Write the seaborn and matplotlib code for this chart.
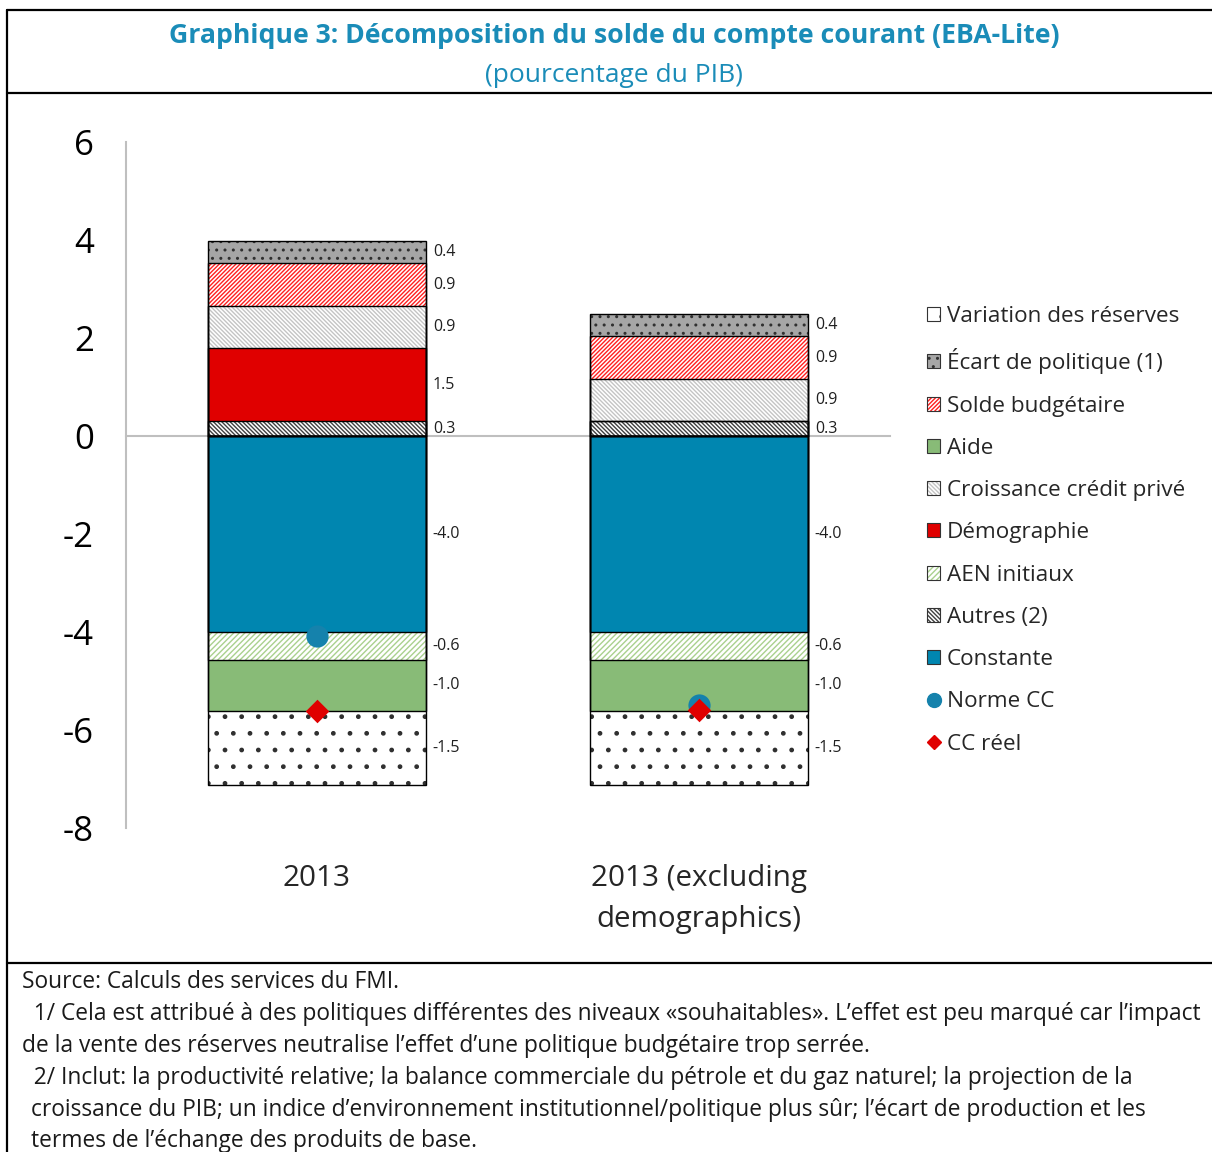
import numpy as np
import pandas as pd
import seaborn as sns
import matplotlib.pyplot as plt
from matplotlib.patches import Patch
from matplotlib.lines import Line2D
from matplotlib.legend_handler import HandlerTuple

# Données (pourcentage du PIB)
categories = ["2013", "2013 (excluding\ndemographics)"]
autres = [0.30, 0.30]
demographie = [1.49, 0.0]
credit_prive = [0.86, 0.86]
solde_budgetaire = [0.88, 0.88]
ecart_politique = [0.44, 0.44]
constante = [-4.00, -4.00]
aen_initiaux = [-0.57, -0.57]
aide = [-1.04, -1.04]
variation_reserves = [-1.51, -1.51]
norme_cc = [-4.08, -5.49]
cc_reel = [-5.61, -5.59]
y_ticks = [-8, -6, -4, -2, 0, 2, 4, 6]

# style: (nom légende, valeurs, couleur fond, hachure, couleur hachure)
positifs = [
    ("Autres (2)", autres, "white", "\\" * 8, "#404040"),
    ("Démographie", demographie, "#e00000", None, "#e00000"),
    ("Croissance crédit privé", credit_prive, "white", "\\" * 8, "#c4c4c4"),
    ("Solde budgétaire", solde_budgetaire, "white", "/" * 8, "#ff2020"),
    ("Écart de politique (1)", ecart_politique, "#a6a6a6", "..", "#303030"),
]
negatifs = [
    ("Constante", constante, "#0086b0", None, "#0086b0"),
    ("AEN initiaux", aen_initiaux, "white", "/" * 6, "#a9d18e"),
    ("Aide", aide, "#88bb77", None, "#88bb77"),
    ("Variation des réserves", variation_reserves, "white", ".", "#303030"),
]
ordre_legende = ["Variation des réserves", "Écart de politique (1)", "Solde budgétaire",
                 "Aide", "Croissance crédit privé", "Démographie", "AEN initiaux",
                 "Autres (2)", "Constante"]

sns.set_style("white")
plt.rcParams['font.family'] = ['Open Sans', 'DejaVu Sans']
plt.rcParams['axes.unicode_minus'] = False
plt.rcParams['hatch.linewidth'] = 1.0

W, H = 1212, 1152
fig = plt.figure(figsize=(W / 100, H / 100), dpi=100)
ax = fig.add_axes([126 / W, 1 - 828 / H, (890 - 126) / W, (828 - 142) / H])

largeur = 0.57
gris_axe = "#bfbfbf"


def empiler(series, ax):
    """Dessine une pile par barres cumulées, de la plus longue à la plus courte."""
    cumuls = np.cumsum([np.array(s[1]) for s in series], axis=0)
    for (nom, vals, fc, hatch, hc), cum in reversed(list(zip(series, cumuls))):
        df = pd.DataFrame({"cat": categories, "val": cum})
        sns.barplot(data=df, x="cat", y="val", order=categories, width=largeur,
                    saturation=1, errorbar=None, color=fc, facecolor=fc,
                    edgecolor=hc, linewidth=0, hatch=hatch, ax=ax)
    for cum in cumuls:
        df = pd.DataFrame({"cat": categories, "val": cum})
        sns.barplot(data=df, x="cat", y="val", order=categories, width=largeur,
                    saturation=1, errorbar=None, color="black", facecolor="none",
                    edgecolor="black", linewidth=1.0, ax=ax)
    # étiquettes de valeurs à droite des barres
    bas = np.zeros(len(categories))
    for (nom, vals, fc, hatch, hc), cum in zip(series, cumuls):
        for i, v in enumerate(vals):
            if v != 0:
                ax.annotate(f"{v:.1f}", xy=(i + largeur / 2, (bas[i] + cum[i]) / 2),
                            xytext=(5, 0), textcoords="offset points",
                            ha="left", va="center", fontsize=11.5, color="#202020")
        bas = cum


empiler(positifs, ax)
empiler(negatifs, ax)

# points Norme CC et CC réel
sns.stripplot(x=categories, y=norme_cc, order=categories, jitter=False, marker="o",
              size=16, color="#1582ac", linewidth=0, zorder=5, ax=ax)
sns.stripplot(x=categories, y=cc_reel, order=categories, jitter=False, marker="D",
              size=12, color="#e00000", linewidth=0, zorder=6, ax=ax)

# axes
ax.set_xlim(-0.5, 1.5)
ax.set_ylim(-8, 6)
ax.set_yticks(y_ticks)
ax.set_yticklabels([str(t) for t in y_ticks])
ax.set_xticks([0.5, 1.5])
ax.set_xticklabels([])
ax.set_xlabel("")
ax.set_ylabel("")
for s in ["top", "right"]:
    ax.spines[s].set_visible(False)
ax.spines["left"].set_color(gris_axe)
ax.spines["left"].set_linewidth(1.5)
ax.spines["bottom"].set_position(("data", 0))
ax.spines["bottom"].set_color(gris_axe)
ax.spines["bottom"].set_linewidth(1.5)
ax.spines["bottom"].set_zorder(0.5)
ax.tick_params(axis="y", direction="in", length=7, width=1.2, color=gris_axe,
               labelsize=25, pad=23, labelcolor="black")
ax.tick_params(axis="x", direction="in", length=7, width=1.2, color=gris_axe)
for i, c in enumerate(categories):
    ax.text(i, -0.052, c, transform=ax.get_xaxis_transform(), ha="center", va="top",
            fontsize=21.3, linespacing=1.55)

# légende
handles, labels = [], []
styles = {s[0]: s for s in positifs + negatifs}
for nom in ordre_legende:
    _, _, fc, hatch, hc = styles[nom]
    handles.append((Patch(facecolor=fc, hatch=hatch, edgecolor=hc, linewidth=0),
                    Patch(facecolor="none", edgecolor="#333333", linewidth=0.8)))
    labels.append(nom)
handles.append(Line2D([], [], marker="o", linestyle="none", color="#1582ac", markersize=10))
labels.append("Norme CC")
handles.append(Line2D([], [], marker="D", linestyle="none", color="#e00000", markersize=7))
labels.append("CC réel")
fig.legend(handles, labels, loc="upper left", bbox_to_anchor=(927 / W, 1 - 306 / H),
           bbox_transform=fig.transFigure, frameon=False, fontsize=16.2,
           handlelength=0.58, handleheight=0.58, handletextpad=0.3,
           labelspacing=0.945, borderpad=0, borderaxespad=0,
           handler_map={tuple: HandlerTuple(ndivide=1)})

# titre
bleu = "#1a8cb8"
fig.text(614 / W, 1 - 36 / H, "Graphique 3: Décomposition du solde du compte courant (EBA-Lite)",
         ha="center", va="center", fontsize=19.2, fontweight="bold", color=bleu)
fig.text(614 / W, 1 - 76 / H, "(pourcentage du PIB)", ha="center", va="center",
         fontsize=19, color=bleu)

# cadre
for (x0, y0, x1, y1) in [(7, 10, W, 10), (7, 93, W, 93), (7, 963, W, 963), (7, 10, 7, H)]:
    fig.add_artist(Line2D([x0 / W, x1 / W], [1 - y0 / H, 1 - y1 / H], color="black",
                          linewidth=1.6, transform=fig.transFigure))

# notes
notes = [
    (22, 982, "Source: Calculs des services du FMI."),
    (22, 1014, "  1/ Cela est attribué à des politiques différentes des niveaux «souhaitables». L’effet est peu marqué car l’impact"),
    (22, 1046, "de la vente des réserves neutralise l’effet d’une politique budgétaire trop serrée."),
    (22, 1078, "  2/ Inclut: la productivité relative; la balance commerciale du pétrole et du gaz naturel; la projection de la"),
    (31, 1110, "croissance du PIB; un indice d’environnement institutionnel/politique plus sûr; l’écart de production et les"),
    (31, 1141, "termes de l’échange des produits de base."),
]
for x, y, t in notes:
    fig.text(x / W, 1 - y / H, t, ha="left", va="center", fontsize=16.35, color="#1a1a1a")

plt.savefig("out.png", dpi=100)
plt.close()
